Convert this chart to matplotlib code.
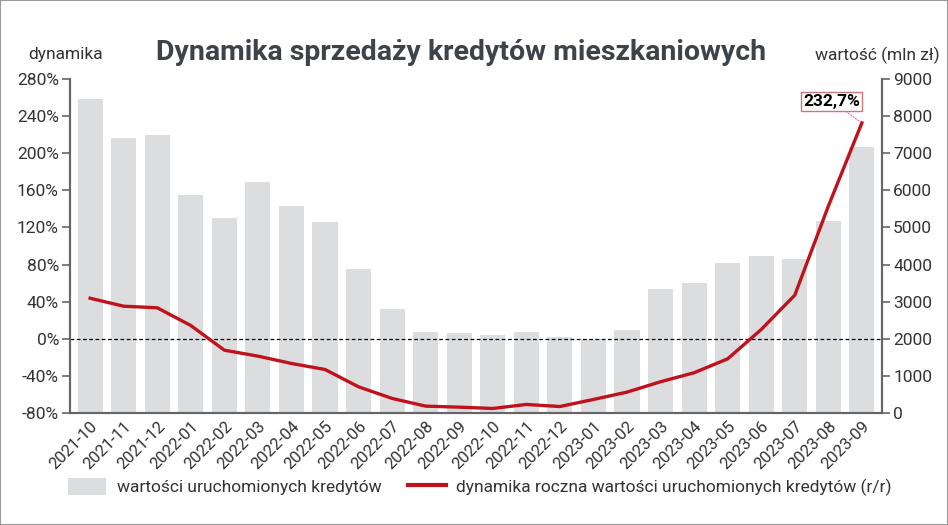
import matplotlib
matplotlib.use("Agg")
import matplotlib.pyplot as plt
from matplotlib.patches import Patch, Rectangle
from matplotlib.lines import Line2D

months = ["2021-10", "2021-11", "2021-12", "2022-01", "2022-02", "2022-03",
          "2022-04", "2022-05", "2022-06", "2022-07", "2022-08", "2022-09",
          "2022-10", "2022-11", "2022-12", "2023-01", "2023-02", "2023-03",
          "2023-04", "2023-05", "2023-06", "2023-07", "2023-08", "2023-09"]
values_mln = [8450, 7400, 7480, 5880, 5250, 6230, 5580, 5150, 3880, 2810, 2170, 2145,
              2100, 2170, 2050, 1990, 2245, 3340, 3490, 4030, 4220, 4160, 5165, 7170]
dynamics_pct = [43.7, 35.1, 33.4, 14.3, -12.3, -18.7, -26.6, -33.1, -51.8, -64.3, -72.6, -73.7,
                -75.1, -70.8, -73.0, -65.4, -57.5, -46.3, -36.6, -21.6, 10.0, 47.0, 142.9, 232.7]
left_ticks = [-80, -40, 0, 40, 80, 120, 160, 200, 240, 280]
right_ticks = [0, 1000, 2000, 3000, 4000, 5000, 6000, 7000, 8000, 9000]

FONT = ["Roboto", "DejaVu Sans"]
plt.rcParams['font.family'] = FONT
TXT = "#333333"
AX = "#666666"

fig = plt.figure(figsize=(9.48, 5.25), dpi=100)
ax_l = fig.add_axes([70/948, 1-413/525, (882-70)/948, (413-79)/525])
ax_r = ax_l.twinx()
ax_l.set_zorder(ax_r.get_zorder() + 1)
ax_l.patch.set_visible(False)

x = list(range(len(months)))
ax_r.bar(x, values_mln, width=0.75, color="#dcdddf", zorder=1)
ax_r.set_ylim(0, 9000)
ax_r.set_yticks(right_ticks)
ax_r.set_yticklabels([str(v) for v in right_ticks])

ax_l.plot(x, dynamics_pct, color="#c0121c", lw=2.4, zorder=3, solid_joinstyle="round")
ax_l.axhline(0, color="black", lw=0.9, ls=(0, (3, 2)), zorder=2)
ax_l.set_ylim(-80, 280)
ax_l.set_yticks(left_ticks)
ax_l.set_yticklabels([f"{v}%" for v in left_ticks])
ax_l.set_xlim(-0.6, len(months) - 0.4)
ax_l.set_xticks(x)
ax_l.set_xticklabels(months, rotation=45, ha="right", rotation_mode="anchor")

for a in (ax_l, ax_r):
    a.spines["top"].set_visible(False)
    for s in ("left", "right", "bottom"):
        a.spines[s].set_color(AX)
        a.spines[s].set_linewidth(1.5)
    a.tick_params(axis="y", colors=AX, labelcolor=TXT, labelsize=12.5, length=6, width=1.2, pad=2)
    a.tick_params(axis="x", length=0, labelsize=12, labelcolor=TXT, pad=4)

# annotation of last point
last = len(months) - 1
ax_l.annotate(f"{dynamics_pct[last]:.1f}%".replace(".", ","),
              xy=(last, dynamics_pct[last]), xytext=(-1.2, 10), textcoords="offset points",
              ha="right", va="bottom", fontsize=12.5, fontweight="bold", color="black",
              bbox=dict(boxstyle="square,pad=0.12", fc="white", ec="#c9777b", lw=1),
              arrowprops=dict(arrowstyle="-", color="#c9777b", lw=0.8, ls=":",
                              shrinkA=0, shrinkB=2))

fig.text(461/948, 1-52/525, "Dynamika sprzedaży kredytów mieszkaniowych", ha="center", va="center",
         fontsize=20.5, fontweight="bold", color="#3d4348")
fig.text(28/948, 1-55/525, "dynamika", ha="left", va="center", fontsize=12.5, color=TXT)
fig.text(940/948, 1-55/525, "wartość (mln zł)", ha="right", va="center", fontsize=12.5, color=TXT)

handles = [Patch(facecolor="#dcdddf", edgecolor="none"),
           Line2D([0], [0], color="#c0121c", lw=3)]
labels = ["wartości uruchomionych kredytów",
          "dynamika roczna wartości uruchomionych kredytów (r/r)"]
fig.legend(handles, labels, loc="center", bbox_to_anchor=(480/948, 1-487/525), ncol=2,
           frameon=False, fontsize=12.5, handlelength=2.2, handleheight=1.2,
           columnspacing=1.5, handletextpad=0.6, labelcolor=TXT)

fig.patches.append(Rectangle((0, 0), 1, 1, transform=fig.transFigure, fill=False,
                             ec="#9a9a9a", lw=1.5))

fig.savefig("out.png", dpi=100)
